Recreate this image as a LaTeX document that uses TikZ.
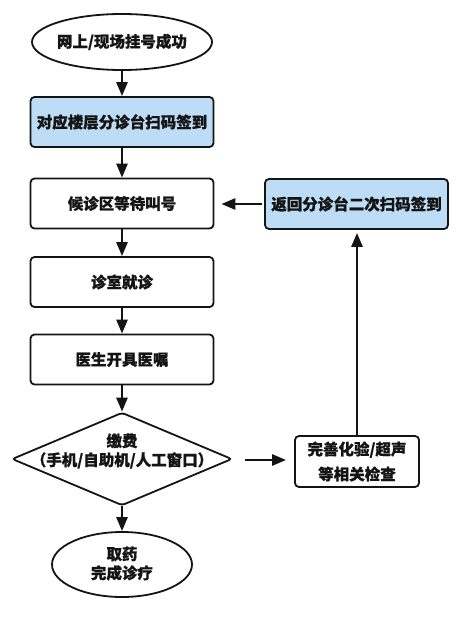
\documentclass[tikz,border=0pt]{standalone}
\usepackage{fontspec}
\setmainfont{Noto Sans CJK SC}[BoldFeatures={FakeBold=0.8}]
\usetikzlibrary{shapes.geometric,arrows.meta}
\definecolor{boxblue}{RGB}{189,220,245}
\definecolor{edge}{RGB}{20,20,20}
\begin{document}
\begin{tikzpicture}[x=1pt,y=-1pt,
  txt/.style={font=\bfseries\fontsize{15.5}{19}\selectfont, align=center, inner sep=0pt, text=edge},
  shp/.style={draw=edge, line width=1.8pt, inner sep=0pt},
  proc/.style={shp, rounded corners=4pt, minimum width=183pt, minimum height=50pt, txt},
  arr/.style={draw=edge, line width=2.6pt, -{Triangle[length=14pt,width=11pt]}}]
\useasboundingbox (0,0) rectangle (458,619);
\node[shp, ellipse, minimum width=180pt, minimum height=56pt] (start) at (122,42) {};
\node[txt] (startT) at (start) {网上/现场挂号成功};
\node[proc, fill=boxblue] (scan) at (122,122) {对应楼层分诊台扫码签到};
\node[proc] (wait) at (122,203.5) {候诊区等待叫号};
\node[proc] (visit) at (122,282) {诊室就诊};
\node[proc] (order) at (122,359.5) {医生开具医嘱};
\node[shp, diamond, rounded corners=3pt, minimum width=220pt, minimum height=93pt] (pay) at (122,459) {};
\node[txt] (payT) at (122,451) {缴费\\（手机/自助机/人工窗口）};
\node[shp, ellipse, minimum width=140pt, minimum height=65pt] (done) at (122,564.5) {};
\node[txt] (doneT) at (122,563.5) {取药\\完成诊疗};
\node[proc, fill=boxblue] (rescan) at (356.5,204) {返回分诊台二次扫码签到};
\node[proc, minimum width=124pt, minimum height=51pt, font=\bfseries\fontsize{15.5}{25}\selectfont] (exam) at (357,461.5) {完善化验/超声\\等相关检查};
\draw[arr] (start) -- (scan);
\draw[arr] (scan) -- (wait);
\draw[arr] (wait) -- (visit);
\draw[arr] (visit) -- (order);
\draw[arr] (order) -- (pay);
\draw[arr] (pay) -- (done);
\draw[arr, shorten <=12pt, shorten >=8pt] (pay.east |- exam.west) ++(0,-1.5) coordinate (pe) -- (pe -| exam.west);
\draw[arr, shorten >=3pt] (exam.north) -- (exam.north |- rescan.south);
\draw[arr, shorten <=2pt, shorten >=7pt] (rescan.west) -- (rescan.west -| wait.east);
\end{tikzpicture}
\end{document}
